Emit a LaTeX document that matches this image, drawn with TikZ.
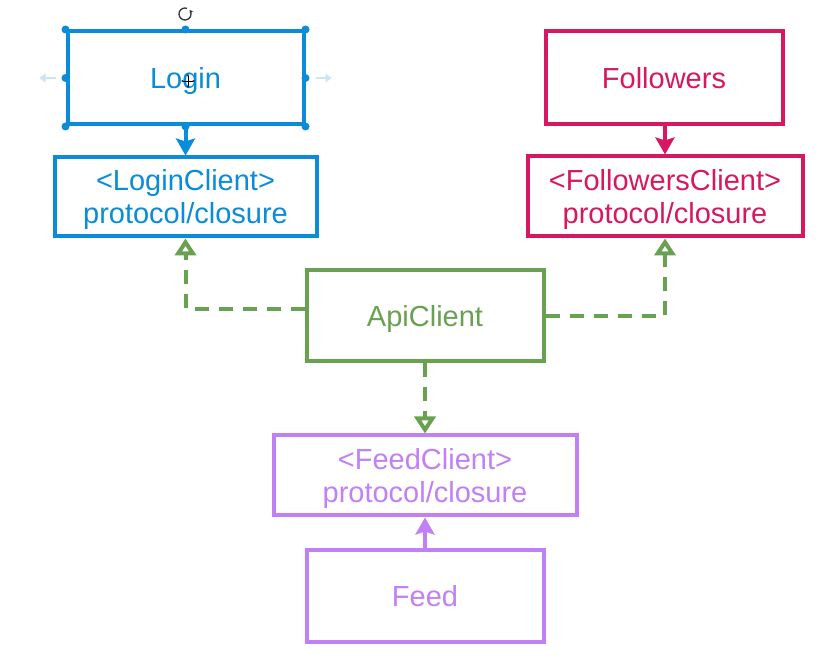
\documentclass[tikz,border=0pt]{standalone}
\usepackage{fontspec}
\setmainfont{Liberation Sans}
\usetikzlibrary{arrows.meta}
\definecolor{loginblue}{RGB}{10,140,216}
\definecolor{followpink}{RGB}{214,24,98}
\definecolor{apigreen}{RGB}{104,162,80}
\definecolor{feedpurple}{RGB}{193,128,245}

\begin{document}
\begin{tikzpicture}[x=1pt,y=-1pt,
		box/.style={draw, line width=4pt, align=center, inner sep=0pt, font=\fontsize{29}{33}\selectfont,
			text height=27pt, text depth=6pt},
		twoline/.style={text height=, text depth=1pt},
		dep/.style={line width=4pt, -{Stealth[length=17pt,width=19pt,inset=3pt]}},
		impl/.style={line width=4pt, dash pattern=on 14pt off 10pt, -{Triangle[open,length=17pt,width=21pt]}}]
			%%%%% START %%%%%
			
			\useasboundingbox[fill=white] (0,0) rectangle (839,668);
			
			\node[box, loginblue, minimum width=236pt, minimum height=93pt] (login) at (185.5,78) {Login};
			\node[box, twoline, loginblue, minimum width=262pt, minimum height=79pt] (loginc) at (185.5,197) {<LoginClient>\\protocol/closure};
			
			\node[box, followpink, minimum width=237pt, minimum height=93pt] (followers) at (664,78) {Followers};
			\node[box, twoline, followpink, minimum width=275pt, minimum height=80pt] (followersc) at (665,196.5) {<FollowersClient>\\protocol/closure};
			
			\node[box, apigreen, minimum width=237pt, minimum height=91pt] (api) at (425,316) {ApiClient};
			
			\node[box, twoline, feedpurple, minimum width=303pt, minimum height=80pt] (feedc) at (425,475.5) {<FeedClient>\\protocol/closure};
			\node[box, feedpurple, minimum width=237pt, minimum height=92pt] (feed) at (425,596) {Feed};
			
			\draw[dep, loginblue] (login) -- (loginc);
			\draw[dep, followpink] (followers.south -| followersc.north) -- (followersc.north);
			\draw[dep, feedpurple] (feed) -- (feedc);
			
			\draw[impl, apigreen] ([yshift=7pt]api.west) -| (loginc.south);
			\draw[impl, apigreen] (api.east) -| (followersc.south);
			\draw[impl, apigreen] (api) -- (feedc);
			
			% selection handles round Login
			\foreach \p in {north west, north, north east, east, south east, south, south west, west}
				\fill[loginblue] (login.\p) circle (4pt);
			\draw[loginblue!22, line width=2.5pt, -{Triangle[length=6pt,width=9pt]}] ([xshift=-10pt]login.west) -- ([xshift=-26pt]login.west);
			\draw[loginblue!22, line width=2.5pt, -{Triangle[length=6pt,width=9pt]}] ([xshift=10pt]login.east) -- ([xshift=26pt]login.east);
			\coordinate (rot) at (185,14);
			\draw[black!80, line width=1.3pt, -{Stealth[length=3.5pt,width=4.5pt]}] (rot) ++(70:6pt) arc[start angle=70, end angle=400, radius=6pt];
			\draw[black, line width=0.9pt, {Stealth[length=2.5pt]}-{Stealth[length=2.5pt]}] (181,81) -- (195,81);
			\draw[black, line width=0.9pt, {Stealth[length=2.5pt]}-{Stealth[length=2.5pt]}] (188,74) -- (188,88);
			
			%%%%% END %%%%%
\end{tikzpicture}
\end{document}
